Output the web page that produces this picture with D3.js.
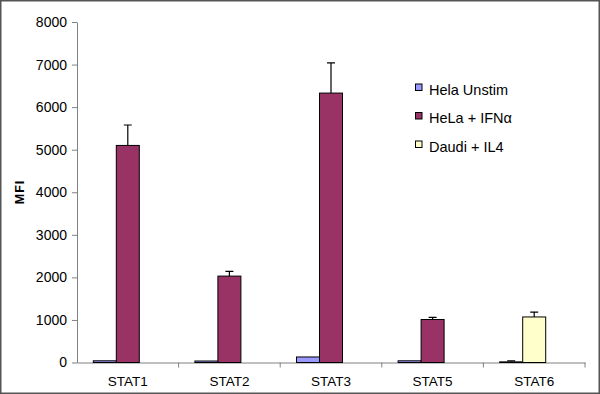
<!DOCTYPE html>
<html>
<head>
<meta charset="utf-8">
<script src="https://cdn.jsdelivr.net/npm/d3@7"></script>
<style>
  body { margin: 0; background: #fff; }
  svg { display: block; font-family: Arial, "Liberation Sans", sans-serif; }
</style>
</head>
<body>
<svg id="chart" width="600" height="394"></svg>
<script>
// data
const categories = ["STAT1", "STAT2", "STAT3", "STAT5", "STAT6"];
const seriesNames = ["Hela Unstim", "HeLa + IFNα", "Daudi + IL4"];
const unstimValues = [40, 35, 130, 40, 15];
const unstimErrors = [0, 0, 0, 0, 25];
const stimValues = [5100, 2030, 6330, 1010, 1070];
const stimErrors = [480, 110, 710, 50, 115];
// which legend series each stimulated bar belongs to
const stimSeries = ["HeLa + IFNα", "HeLa + IFNα", "HeLa + IFNα", "HeLa + IFNα", "Daudi + IL4"];
const yTicks = [0, 1000, 2000, 3000, 4000, 5000, 6000, 7000, 8000];

const colors = d3.scaleOrdinal().domain(seriesNames).range(["#9999ff", "#993366", "#ffffcc"]);

const svg = d3.select("#chart");
const mLeft = 77, mRight = 585, mTop = 22, mBottom = 362.5;

const x = d3.scaleBand().domain(categories).range([mLeft, mRight]);
const y = d3.scaleLinear().domain([0, 8000]).range([mBottom, mTop]);

// outer frame
svg.append("rect").attr("x", 0.75).attr("y", 0.75).attr("width", 598.5).attr("height", 392.5)
  .attr("fill", "#fff").attr("stroke", "#555").attr("stroke-width", 1.5);

// y axis
const yAxis = svg.append("g").attr("transform", `translate(${mLeft},0)`)
  .call(d3.axisLeft(y).tickValues(yTicks).tickFormat(d3.format("d")).tickSize(5).tickSizeOuter(0).tickPadding(5));
yAxis.select(".domain").attr("stroke", "#808080");
yAxis.selectAll(".tick line").attr("stroke", "#808080");
yAxis.selectAll("text").attr("font-size", "14px").attr("font-family", "Arial, 'Liberation Sans', sans-serif").attr("fill", "#000");

// x axis
const xAxis = svg.append("g").attr("transform", `translate(0,${mBottom})`)
  .call(d3.axisBottom(x).tickSize(0).tickPadding(14));
xAxis.select(".domain").attr("stroke", "#808080");
xAxis.selectAll("text").attr("font-size", "13.5px").attr("font-family", "Arial, 'Liberation Sans', sans-serif").attr("fill", "#000");
// category separators
const seps = categories.map(c => x(c) + x.bandwidth());
svg.append("g").selectAll("line").data(seps).enter().append("line")
  .attr("x1", d => d).attr("x2", d => d).attr("y1", mBottom).attr("y2", mBottom + 5)
  .attr("stroke", "#808080");

svg.append("text").attr("transform", "translate(24,192) rotate(-90)")
  .attr("text-anchor", "middle").attr("font-size", "12.5px").attr("font-weight", "bold")
  .attr("letter-spacing", "1px")
  .text("MFI");

// three slots per category (excel style), only two are used
const barW = 23;
const groupW = barW * 3;
const off = (x.bandwidth() - groupW) / 2;

const bars = [];
categories.forEach((c, i) => {
  bars.push({ cat: c, pos: 0, v: unstimValues[i], e: unstimErrors[i], s: seriesNames[0] });
  bars.push({ cat: c, pos: 1, v: stimValues[i], e: stimErrors[i], s: stimSeries[i] });
});

const g = svg.append("g");
g.selectAll("path.err").data(bars.filter(d => d.e > 0)).enter().append("path")
  .attr("class", "err")
  .attr("d", d => {
    const cx = x(d.cat) + off + d.pos * barW + barW / 2;
    return `M${cx},${y(d.v)}V${y(d.v + d.e)}M${cx - 4},${y(d.v + d.e)}H${cx + 4}`;
  })
  .attr("stroke", "#000").attr("stroke-width", 1.2).attr("fill", "none");

g.selectAll("rect").data(bars).enter().append("rect")
  .attr("x", d => x(d.cat) + off + d.pos * barW)
  .attr("y", d => y(d.v))
  .attr("width", barW)
  .attr("height", d => mBottom - y(d.v))
  .attr("fill", d => colors(d.s))
  .attr("stroke", "#000").attr("stroke-width", 1);

// legend
const legend = svg.append("g").selectAll("g").data(seriesNames).enter().append("g")
  .attr("transform", (d, i) => `translate(415,${89 + i * 28.5})`);
legend.append("rect").attr("x", 0.5).attr("y", -5).attr("width", 6.5).attr("height", 6.5)
  .attr("fill", d => colors(d)).attr("stroke", "#000").attr("stroke-width", 1);
legend.append("text").attr("x", 14).attr("y", 5.5).attr("font-size", "14.5px").text(d => d);
</script>
</body>
</html>
